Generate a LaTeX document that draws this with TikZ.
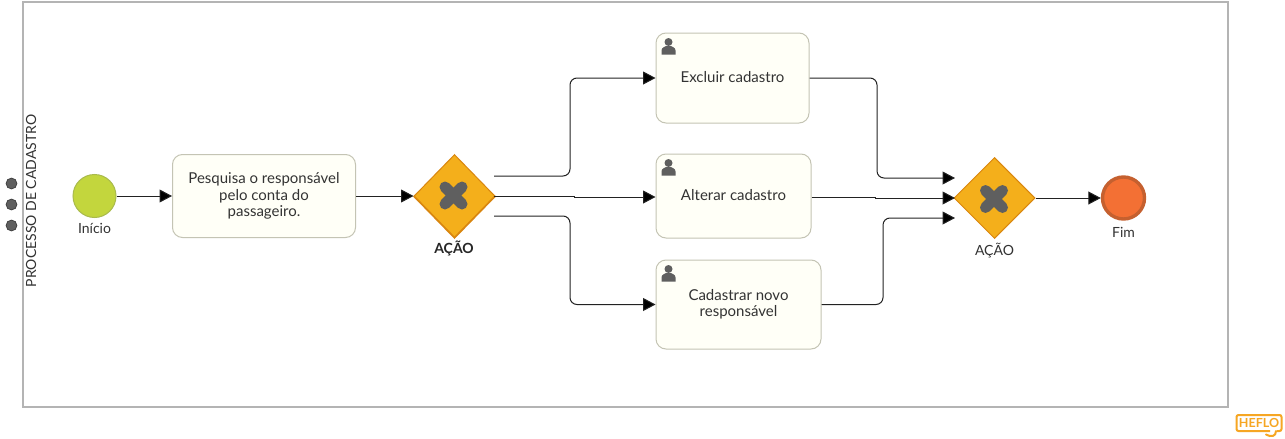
\documentclass[tikz,border=0pt]{standalone}
\usepackage{fontspec}
\setmainfont{Lato}
\usetikzlibrary{arrows.meta,shapes.geometric}
\definecolor{linegray}{HTML}{222222}
\definecolor{poolgray}{HTML}{B4B4B4}
\definecolor{taskfill}{HTML}{FFFFF7}
\definecolor{taskline}{HTML}{C4C4B4}
\definecolor{gatefill}{HTML}{F4AF1B}
\definecolor{gateline}{HTML}{D9860F}
\definecolor{darkicon}{HTML}{5F5F5F}
\definecolor{txt}{HTML}{333333}
\definecolor{startfill}{HTML}{C3D63D}
\definecolor{startline}{HTML}{A9BA4C}
\definecolor{endfill}{HTML}{F37034}
\definecolor{endline}{HTML}{C5602F}
\definecolor{heflo}{HTML}{F6A623}
\tikzset{
  x=1pt,y=-1pt,
  flow/.style={draw=linegray,line width=1pt,rounded corners=7pt,-{Triangle[length=12.5pt,width=13pt,fill=black]}},
  taskbox/.style={draw=taskline,fill=taskfill,line width=1pt,rounded corners=10pt,inner sep=0pt,font=\fontsize{15}{16.5}\selectfont,text=txt,align=center},
  gateway/.style={diamond,draw=gateline,fill=gatefill,line width=1pt,inner sep=0pt,minimum width=81pt,minimum height=83pt,aspect=1},
  evlabel/.style={font=\fontsize{14}{16}\selectfont,text=txt,inner sep=0pt},
  menudot/.style={circle,draw=black!80,fill=darkicon,line width=.6pt,minimum size=11pt,inner sep=0pt},
  crossarm/.style={draw=darkicon,line width=11pt,line cap=round},
}
\newcommand{\usericon}[2]{%
  \fill[darkicon] (#1,#2-5) circle (4pt);
  \fill[darkicon] (#1-7,#2+7.5) -- (#1-7,#2+3.5) .. controls (#1-7,#2) and (#1-3,#2) .. (#1-2.5,#2-1) -- (#1+2.5,#2-1) .. controls (#1+3,#2) and (#1+7,#2) .. (#1+7,#2+3.5) -- (#1+7,#2+7.5) -- cycle;
}
\newcommand{\gatecross}[2]{%
  \draw[crossarm] (#1-8.5,#2-8.5) -- (#1+8.5,#2+8.5);
  \draw[crossarm] (#1-8.5,#2+8.5) -- (#1+8.5,#2-8.5);
}
\begin{document}
\begin{tikzpicture}
\useasboundingbox (0,0) rectangle (1285,439);
\fill[white] (0,0) rectangle (1285,439);
% pool
\draw[draw=poolgray,line width=1.1pt] (23,2) rectangle (1228,407);
\node[rotate=90,font=\fontsize{14}{16}\selectfont,text=txt,inner sep=0pt] (pool) at (31,201) {PROCESSO DE CADASTRO};
\node[menudot] (d1) at (11.5,183.5) {};
\node[menudot] (d2) at (11.5,204.5) {};
\node[menudot] (d3) at (11.5,225.5) {};
% events
\node[circle,draw=startline,fill=startfill,line width=1pt,minimum size=43pt,inner sep=0pt] (start) at (94.5,196) {};
\node[evlabel] (startl) at (94.5,228.5) {Início};
\node[circle,draw=endline,fill=endfill,line width=3.4pt,minimum size=42pt,inner sep=0pt] (end) at (1123.5,198) {};
\node[evlabel] (endl) at (1123.5,232.5) {Fim};
% tasks
\node[taskbox,minimum width=183pt,minimum height=83pt] (t1) at (264,196) {\raisebox{1pt}{Pesquisa o responsável}\\\raisebox{1pt}{pelo conta do}\\\raisebox{1pt}{passageiro.}};
\node[taskbox,minimum width=153pt,minimum height=90pt] (t2) at (732.5,78) {\raisebox{2pt}{Excluir cadastro}};
\node[taskbox,minimum width=155pt,minimum height=84pt] (t3) at (733.5,196) {\raisebox{2pt}{Alterar cadastro}};
\node[taskbox,minimum width=165pt,minimum height=89pt] (t4) at (738.5,304.5) {\raisebox{1pt}{Cadastrar novo}\\\raisebox{1pt}{responsável}};
\usericon{668.5}{47}
\usericon{668.5}{168}
\usericon{668.5}{274}
% gateways
\node[gateway] (g1) at (454.5,196) {};
\draw[draw=gateline,line width=1.4pt] (g1.west) -- (g1.south) -- (g1.east);
\gatecross{453.5}{195.5}
\node[evlabel,text=black!85,font=\fontsize{14}{16}\selectfont\bfseries] (g1l) at (454,248) {AÇÃO};
\node[gateway,minimum height=81pt] (g2) at (994.5,198) {};
\gatecross{994}{199}
\node[evlabel] (g2l) at (994.5,251) {AÇÃO};
% free ends of the connectors
\coordinate (a1) at (494,176);
\coordinate (a2) at (494,196);
\coordinate (a3) at (494,216);
\coordinate (b1) at (955,178);
\coordinate (b2) at (955,198);
\coordinate (b3) at (955,218);
% flows
\draw[flow] (start.east) -- (t1.west);
\draw[flow] (t1.east) -- (g1.west);
\draw[flow] (a1) -- (570,176) -- (570,78) -- (t2.west);
\draw[flow,rounded corners=0pt] (a2) -- (574,196) -- (574,197) -- (t3.west |- 0,197);
\draw[flow] (a3) -- (570,216) -- (570,304.5) -- (t4.west);
\draw[flow] (t2.east) -- (877,78) -- (877,178) -- (b1);
\draw[flow,rounded corners=0pt] (t3.east |- 0,197) -- (875,197) -- (875,198) -- (b2);
\draw[flow] (t4.east) -- (883,304.5) -- (883,218) -- (b3);
\draw[flow] (g2.east) -- (end.west);
% logo
\draw[heflo,line width=2pt,rounded corners=2pt] (1270,431) -- (1236.5,431) -- (1236.5,415) -- (1281.5,415) -- (1281.5,431) -- (1277,431);
\draw[heflo,line width=2pt,line cap=round] (1276,431) .. controls (1276,436.5) and (1271,437.5) .. (1266,434.5);
\node[font=\fontsize{12.5}{13}\selectfont\bfseries,text=heflo,inner sep=0pt] (logo) at (1259,423) {HEFLO};
\end{tikzpicture}
\end{document}
